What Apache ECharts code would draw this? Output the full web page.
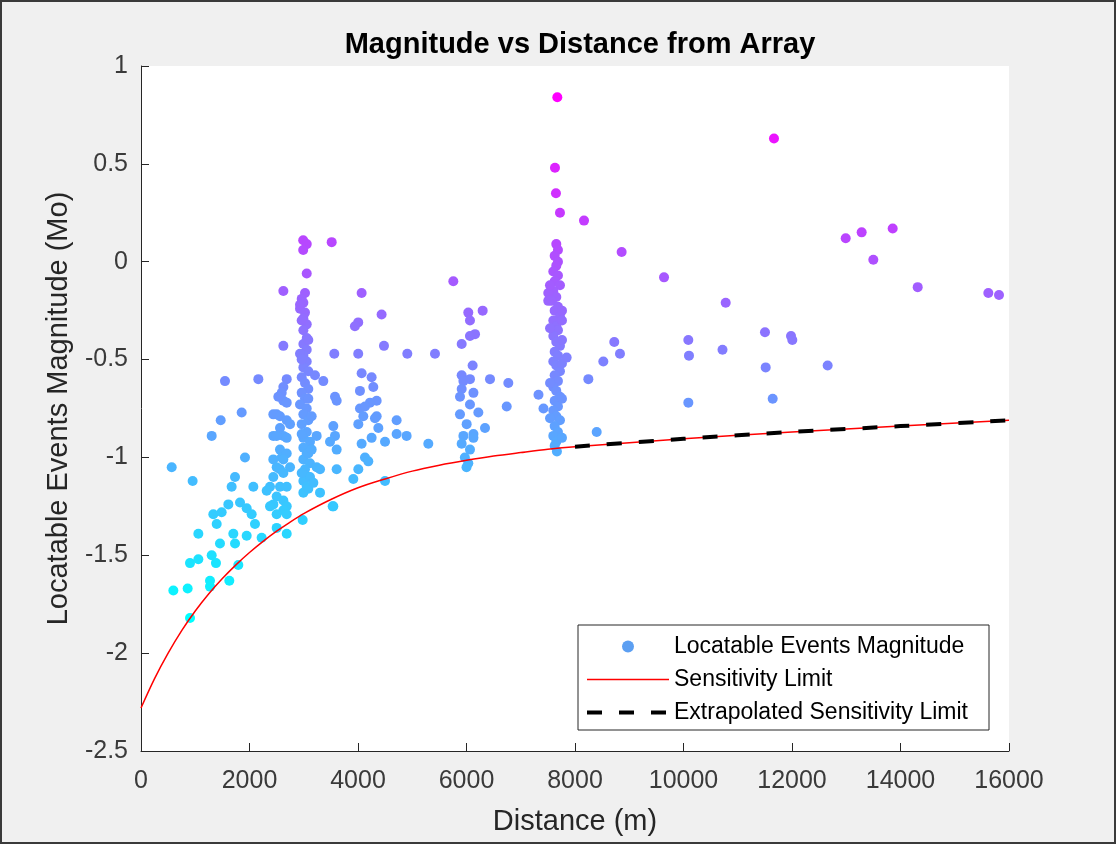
<!DOCTYPE html>
<html>
<head>
<meta charset="utf-8">
<script src="https://cdn.jsdelivr.net/npm/echarts@6/dist/echarts.min.js"></script>
<style>
html,body{margin:0;padding:0;background:#f0f0f0;}
#chart{width:1116px;height:844px;}
</style>
</head>
<body>
<div id="chart"></div>
<script>
// ---- Data (distance in m, magnitude Mo) ----
const nearEvents = [
  [1548,-0.61],[2163,-0.60],[1856,-0.77],[1469,-0.81],[1303,-0.89],[1917,-1.00],[566,-1.05],[952,-1.12],
  [1733,-1.10],[1671,-1.15],[2071,-1.15],[1333,-1.29],[1487,-1.28],[1395,-1.34],[1057,-1.39],[1610,-1.24],
  [1825,-1.23],[1948,-1.26],[2040,-1.29],[2101,-1.34],[1702,-1.39],[1456,-1.44],[1733,-1.44],[1948,-1.40],
  [2224,-1.41],[2501,-1.36],[2686,-1.39],[2980,-1.32],[3533,-1.25],[903,-1.54],[1057,-1.52],[1303,-1.50],
  [1382,-1.54],[1794,-1.55],[596,-1.68],[860,-1.67],[1272,-1.63],[1272,-1.66],[1628,-1.63],[903,-1.82]
];
const column2600Events = [
  [2686,-0.60],[2624,-0.64],[2594,-0.67],[2624,-0.71],[2531,-0.69],[2686,-0.72],[2501,-0.78],[2439,-0.78],
  [2562,-0.79],[2686,-0.81],[2747,-0.83],[2562,-0.85],[2439,-0.89],[2624,-0.89],[2501,-0.89],[2686,-0.90],
  [2562,-0.96],[2594,-1.00],[2686,-0.98],[2439,-1.01],[2624,-1.01],[2501,-1.05],[2747,-1.05],[2562,-1.06],
  [2624,-1.08],[2439,-1.10],[2378,-1.15],[2562,-1.15],[2686,-1.15],[2317,-1.17],[2501,-1.20],[2624,-1.22],
  [2439,-1.24],[2378,-1.25],[2686,-1.25],[2624,-1.27],[2501,-1.29],[2686,-1.29],[2624,-0.15],[2624,-0.43]
];
const column3000Events = [
  [2990,0.11],[3055,0.09],[2990,0.06],[3055,-0.06],
  [3023,-0.16],[2962,-0.19],[2993,-0.21],[2931,-0.24],[3023,-0.26],[2993,-0.29],[3055,-0.32],[2993,-0.35],
  [3055,-0.39],[2993,-0.42],[3055,-0.45],[2993,-0.48],[3055,-0.51],[2993,-0.54],[3084,-0.56],[2962,-0.59],
  [3023,-0.62],[3084,-0.65],[2962,-0.67],[3023,-0.70],[2931,-0.73],[3055,-0.75],[2993,-0.78],[3084,-0.81],
  [2962,-0.83],[3055,-0.87],[2993,-0.90],[3115,-0.92],[2993,-0.95],[3055,-0.98],[2993,-1.01],[3115,-1.03],
  [3023,-1.06],[3084,-1.10],[2993,-1.12],[3055,-1.15],[2993,-1.18],
  [3207,-0.58],[3361,-0.61],[3146,-0.79],[3238,-0.89],[3238,-1.05],[3300,-1.06],[3115,-1.10],[3300,-1.18],
  [2931,-0.47],[2931,-0.22],
  [2962,-0.30],[3084,-0.40],[2962,-0.50],[3084,-0.70],[2962,-0.88],[3084,-0.98],[2962,-1.08],[3084,-1.16],
  [3146,-0.96],[3177,-1.13]
];
const midEvents = [
  [3515,0.10],[4067,-0.16],[4435,-0.27],[4004,-0.31],[3943,-0.33],[3563,-0.47],[4004,-0.47],[4479,-0.43],
  [4909,-0.47],[5419,-0.47],[3576,-0.69],[3607,-0.71],[3545,-0.84],[3576,-0.89],[3484,-0.92],[3607,-0.96],
  [3607,-1.06],[3545,-1.25],
  [4067,-0.57],[4251,-0.59],[4282,-0.64],[4036,-0.66],[4344,-0.71],[4221,-0.72],[4036,-0.75],[4098,-0.79],
  [4006,-0.83],[4313,-0.80],[4375,-0.85],[4251,-0.90],[4067,-0.93],[4498,-0.92],[4712,-0.81],[4712,-0.88],
  [4896,-0.89],[4129,-1.00],[4190,-1.02],[4006,-1.06],[3914,-1.11],[4498,-1.12],[5296,-0.93],[4129,-0.74],
  [4344,-0.79]
];
const column6000Events = [
  [5757,-0.10],[6033,-0.26],[6064,-0.30],[6298,-0.25],[6157,-0.37],[6064,-0.38],[5911,-0.42],[6113,-0.53],
  [5911,-0.58],[5943,-0.61],[6064,-0.60],[5911,-0.65],[6128,-0.67],[5880,-0.69],[6064,-0.73],[6218,-0.77],
  [5880,-0.78],[6003,-0.83],[6341,-0.85],[5943,-0.89],[6128,-0.88],[5911,-0.93],[6064,-0.96],[6033,-1.03],
  [6128,-0.90],[6433,-0.60],[6771,-0.62],[6741,-0.74],[5970,-1.00],[6000,-1.05]
];
const column7600Events = [
  [7674,0.84],[7631,0.48],[7649,0.35],[7723,0.25],
  [7655,0.09],[7686,0.06],[7625,0.03],[7686,0.00],[7655,-0.02],[7600,-0.05],[7686,-0.07],[7625,-0.10],
  [7723,-0.12],[7600,-0.15],[7655,-0.18],[7570,-0.20],[7686,-0.23],[7625,-0.25],[7723,-0.28],[7600,-0.30],
  [7655,-0.33],[7686,-0.35],[7600,-0.38],[7655,-0.41],[7723,-0.43],[7625,-0.46],[7686,-0.48],[7600,-0.51],
  [7655,-0.53],[7723,-0.56],[7625,-0.58],[7686,-0.61],[7600,-0.64],[7655,-0.66],[7723,-0.69],[7625,-0.71],
  [7686,-0.74],[7600,-0.76],[7655,-0.79],[7723,-0.81],[7625,-0.84],[7686,-0.87],[7600,-0.89],[7655,-0.92],
  [7625,-0.94],[7667,-0.97],
  [7507,-0.16],[7507,-0.20],[7760,-0.25],[7760,-0.30],[7539,-0.12],[7760,-0.40],[7540,-0.34],[7760,-0.52],
  [7540,-0.62],[7760,-0.70],[7540,-0.80],[7760,-0.90],[7846,-0.49],[7327,-0.68],[7419,-0.75]
];
const farEvents = [
  [8246,-0.60],[8522,-0.51],[8724,-0.41],[8829,-0.47],[8400,-0.87],[8166,0.21],[8860,0.05],
  [11668,0.63],[9641,-0.08],[10778,-0.21],[12990,0.12],[13284,0.15],[13856,0.17],[13499,0.01],
  [14317,-0.13],[15619,-0.16],[15816,-0.17],[10089,-0.40],[10101,-0.48],[10089,-0.72],[10719,-0.45],
  [11502,-0.36],[11515,-0.54],[11644,-0.70],[11982,-0.38],[12006,-0.40],[12657,-0.53]
];
const limitDistance = [0,250,500,750,1000,1250,1500,1750,2000,2250,2500,2750,3000,3500,4000,4500,5000,5500,6000,6500,7000,7500,8000,10000,12000,14000,16000];
const limitMagnitude = [-2.28,-2.13,-2.00,-1.885,-1.785,-1.697,-1.619,-1.549,-1.486,-1.429,-1.377,-1.330,-1.287,-1.215,-1.155,-1.11,-1.07,-1.04,-1.015,-0.993,-0.975,-0.958,-0.945,-0.905,-0.87,-0.84,-0.81];
const extrapDistance = [8000,10000,12000,14000,16000];
const extrapMagnitude = [-0.945,-0.905,-0.87,-0.84,-0.81];
const xTicks = {min:0, max:16000, step:2000};
const yTicks = {min:-2.5, max:1, step:0.5};

// ---- Build ----
const events = [].concat(nearEvents, column2600Events, column3000Events, midEvents, column6000Events, column7600Events, farEvents);
const mags = events.map(p => p[1]);
const cMin = Math.min.apply(null, mags), cMax = Math.max.apply(null, mags);
function coolColor(v){
  let t = (v - cMin) / (cMax - cMin);
  t = Math.max(0, Math.min(1, t));
  const r = Math.round(255 * t), g = Math.round(255 * (1 - t));
  return 'rgb(' + r + ',' + g + ',255)';
}
const FONT = '"Liberation Sans", Arial, Helvetica, sans-serif';
const AX = '#262626';
const HIDDEN = {color: 'rgba(0,0,0,0)', borderWidth: 0, opacity: 0};

const chart = echarts.init(document.getElementById('chart'), null, {renderer:'canvas'});
chart.setOption({
  animation: false,
  backgroundColor: '#f0f0f0',
  textStyle: {fontFamily: FONT},
  title: {
    text: 'Magnitude vs Distance from Array',
    left: 575, top: 25, textAlign: 'center',
    textStyle: {fontFamily: FONT, fontSize: 29, fontWeight: 'bold', color: '#000'}
  },
  graphic: [{
    type: 'rect', silent: true, z: 100,
    shape: {x: 1, y: 1, width: 1114, height: 842},
    style: {fill: 'none', stroke: '#3a3a3a', lineWidth: 2}
  }],
  grid: {left: 141, top: 66, right: 107, bottom: 93, show: true, backgroundColor: '#ffffff', borderWidth: 0, containLabel: false},
  legend: {
    orient: 'vertical', left: 578, top: 625,
    backgroundColor: '#ffffff', borderColor: AX, borderWidth: 1,
    padding: [10, 21, 6, 7], itemWidth: 82, itemHeight: 12, itemGap: 10,
    textStyle: {fontFamily: FONT, fontSize: 23, color: '#000'},
    data: [
      {name: 'Locatable Events Magnitude', icon: 'circle', itemStyle: {color: '#5c9ff2'}},
      {name: 'Sensitivity Limit', itemStyle: HIDDEN, lineStyle: {color: '#ff0000', width: 1.5}},
      {name: 'Extrapolated Sensitivity Limit', itemStyle: HIDDEN, lineStyle: {color: '#000000', width: 4, type: [15, 17]}}
    ]
  },
  xAxis: {
    type: 'value', min: xTicks.min, max: xTicks.max, interval: xTicks.step,
    name: 'Distance (m)', nameLocation: 'middle', nameGap: 56,
    nameTextStyle: {fontFamily: FONT, fontSize: 29, color: '#262626'},
    axisLine: {show: true, onZero: false, lineStyle: {color: AX, width: 1}},
    axisTick: {show: true, inside: true, length: 8, lineStyle: {color: AX}},
    axisLabel: {fontFamily: FONT, fontSize: 25, color: '#3a3a3a', margin: 18, formatter: v => String(v)},
    splitLine: {show: false}
  },
  yAxis: {
    type: 'value', min: yTicks.min, max: yTicks.max, interval: yTicks.step,
    name: 'Locatable Events Magnitude (Mo)', nameLocation: 'middle', nameGap: 68, nameRotate: 90,
    nameTextStyle: {fontFamily: FONT, fontSize: 29, color: '#262626'},
    axisLine: {show: true, onZero: false, lineStyle: {color: AX, width: 1}},
    axisTick: {show: true, inside: true, length: 8, lineStyle: {color: AX}},
    axisLabel: {fontFamily: FONT, fontSize: 25, color: '#3a3a3a', margin: 13, formatter: v => String(v)},
    splitLine: {show: false}
  },
  series: [
    {
      name: 'Locatable Events Magnitude', type: 'scatter', z: 2,
      data: events, symbol: 'circle', symbolSize: 10,
      itemStyle: {color: p => coolColor(p.value[1]), opacity: 1}
    },
    {
      name: 'Sensitivity Limit', type: 'line', z: 3,
      data: limitDistance.map((d, i) => [d, limitMagnitude[i]]),
      symbol: 'none', smooth: 0.3,
      lineStyle: {color: '#ff0000', width: 1.5}, itemStyle: {color: '#ff0000'}
    },
    {
      name: 'Extrapolated Sensitivity Limit', type: 'line', z: 4,
      data: extrapDistance.map((d, i) => [d, extrapMagnitude[i]]),
      symbol: 'none', smooth: 0.3,
      lineStyle: {color: '#000000', width: 4, type: [15, 17]}, itemStyle: {color: '#000000'}
    }
  ]
});
</script>
</body>
</html>
